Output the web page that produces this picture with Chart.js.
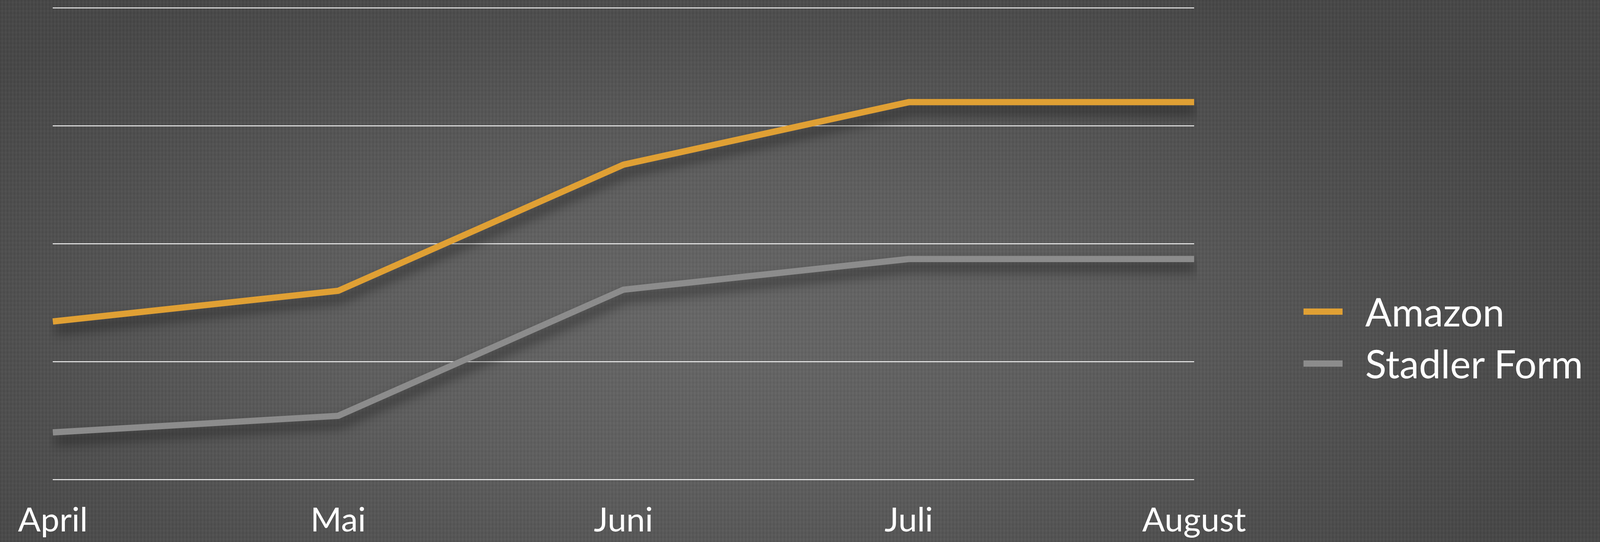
<!DOCTYPE html>
<html>
<head>
<meta charset="utf-8">
<script src="https://cdn.jsdelivr.net/npm/chart.js@4.4.1/dist/chart.umd.min.js"></script>
<style>
    html, body {
        margin: 0;
        padding: 0;
    }
    body {
        width: 100vw;
        height: 100vh;
        overflow: hidden;
        background:
            repeating-linear-gradient(90deg, rgba(0,0,0,0.05) 0px, rgba(0,0,0,0) 3px, rgba(255,255,255,0.03) 5px, rgba(0,0,0,0) 9px),
            repeating-linear-gradient(0deg, rgba(0,0,0,0.03) 0px, rgba(0,0,0,0) 4px, rgba(255,255,255,0.02) 7px, rgba(0,0,0,0) 11px),
            radial-gradient(ellipse 58% 72% at 44% 60%, #666666 0%, #5d5d5d 40%, #4e4e4e 75%, #464646 100%);
        font-family: Lato, "Open Sans", sans-serif;
    }
    #wrap {
        position: absolute;
        left: 0;
        top: 0;
        width: 100vw;
        height: 100vh;
    }
    #legend {
        position: absolute;
        top: 731px;
        color: #ffffff;
        font-size: 100px;
        line-height: 133px;
    }
    .item {
        display: flex;
        align-items: center;
        height: 133px;
        white-space: nowrap;
    }
    .swatch {
        width: 100px;
        height: 16px;
        margin-right: 58px;
    }
</style>
</head>
<body>
<div id="wrap"><canvas id="chart"></canvas></div>
<div id="legend"></div>
<script>
// Data
const months = ['April', 'Mai', 'Juni', 'Juli', 'August'];
const seriesNames = ['Amazon', 'Stadler Form'];
const amazon = [1.34, 1.60, 2.67, 3.20, 3.20];
const stadlerForm = [0.40, 0.54, 1.61, 1.87, 1.87];
const seriesColors = ['#e0a034', '#8c8c8c'];

// layout is laid out for a 4158px wide slide, scaled to the actual window
const fx = window.innerWidth / 4158;

// soft drop shadow under the lines
const lineShadow = {
    id: 'lineShadow',
    beforeDatasetsDraw(chart) {
        const ctx = chart.ctx;
        ctx.save();
        ctx.shadowColor = 'rgba(0, 0, 0, 0.55)';
        ctx.shadowBlur = 30;
        ctx.shadowOffsetX = 5;
        ctx.shadowOffsetY = 20;
    },
    afterDatasetsDraw(chart) {
        chart.ctx.restore();
    }
};

const ctx = document.getElementById('chart');

const chart = new Chart(ctx, {
    type: 'line',
    data: {
        labels: months,
        datasets: [
            {
                label: seriesNames[0],
                data: amazon,
                borderColor: seriesColors[0],
                backgroundColor: seriesColors[0],
                borderWidth: 16,
                pointRadius: 0,
                tension: 0,
                fill: false
            },
            {
                label: seriesNames[1],
                data: stadlerForm,
                borderColor: seriesColors[1],
                backgroundColor: seriesColors[1],
                borderWidth: 16,
                pointRadius: 0,
                tension: 0,
                fill: false
            }
        ]
    },
    options: {
        responsive: true,
        maintainAspectRatio: false,
        animation: false,
        devicePixelRatio: 1,
        layout: {
            padding: {
                left: Math.round(119 * fx),
                right: Math.round(window.innerWidth - 3103 * fx),
                top: 20,
                bottom: 0
            }
        },
        plugins: {
            legend: { display: false },
            tooltip: { enabled: false }
        },
        scales: {
            x: {
                offset: false,
                grid: { display: false },
                border: { display: false },
                ticks: {
                    color: '#ffffff',
                    padding: 46,
                    maxRotation: 0,
                    autoSkip: false,
                    font: { family: 'Lato, "Open Sans", sans-serif', size: 86 }
                },
                afterFit(scale) {
                    scale.height = 160;
                }
            },
            y: {
                min: 0,
                max: 4,
                grid: {
                    color: 'rgba(255, 255, 255, 0.9)',
                    lineWidth: 2.5,
                    drawTicks: false
                },
                border: { display: false },
                ticks: { display: false, stepSize: 1 },
                afterFit(scale) {
                    scale.width = 0;
                }
            }
        }
    },
    plugins: [lineShadow]
});

// legend built from the series names and colours
const legendEl = document.getElementById('legend');
legendEl.style.left = Math.round(3388 * fx) + 'px';
seriesNames.forEach((name, i) => {
    const row = document.createElement('div');
    row.className = 'item';
    const sw = document.createElement('span');
    sw.className = 'swatch';
    sw.style.background = seriesColors[i];
    const txt = document.createElement('span');
    txt.textContent = name;
    row.appendChild(sw);
    row.appendChild(txt);
    legendEl.appendChild(row);
});
</script>
</body>
</html>
